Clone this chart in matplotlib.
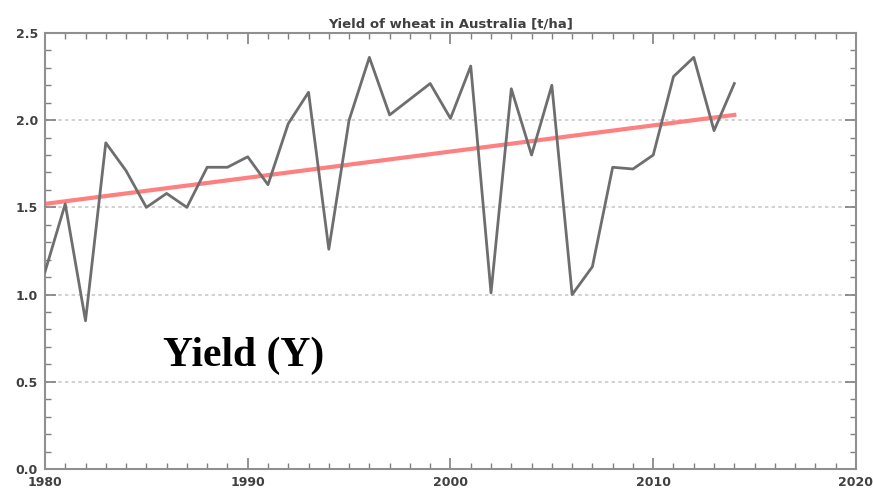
import numpy as np
import matplotlib.pyplot as plt
from matplotlib.ticker import MultipleLocator

# wheat yield in Australia, t/ha
years = list(range(1980, 2015))
yield_tha = [1.13, 1.52, 0.85, 1.87, 1.71, 1.50, 1.58, 1.50, 1.73, 1.73,
             1.79, 1.63, 1.98, 2.16, 1.26, 2.00, 2.36, 2.03, 2.12, 2.21,
             2.01, 2.31, 1.01, 2.18, 1.80, 2.20, 1.00, 1.16, 1.73, 1.72,
             1.80, 2.25, 2.36, 1.94, 2.21]

# linear trend, end points
trend_years = [1980, 2014]
trend_vals = [1.52, 2.03]

fig = plt.figure(figsize=(8.73, 4.99), dpi=100)
ax = fig.add_axes([0.0515, 0.060, 0.929, 0.874])

for lev in [0.5, 1.0, 1.5, 2.0]:
    ax.axhline(lev, color='#c8c8c8', lw=1.2, ls=(0, (2, 2)), zorder=1)

ax.plot(trend_years, trend_vals, color='#ff8080', lw=3, zorder=2)
ax.plot(years, yield_tha, color='#6e6e6e', lw=2, zorder=3)

ax.text(1989.8, 0.65, 'Yield (Y)', family='Liberation Serif', fontweight='bold',
        fontsize=30, ha='center', va='center')

ax.set_xlim(1980, 2020)
ax.set_ylim(0, 2.5)
ax.xaxis.set_major_locator(MultipleLocator(10))
ax.xaxis.set_minor_locator(MultipleLocator(1))
ax.yaxis.set_major_locator(MultipleLocator(0.5))
ax.yaxis.set_minor_locator(MultipleLocator(0.1))
ax.yaxis.set_major_formatter(lambda v, p: '%.1f' % v)
ax.tick_params(which='both', direction='in', top=True, right=True,
               color='#808080', labelsize=9, labelcolor='#404040', pad=5)
ax.tick_params(which='major', length=8, width=1.2)
ax.tick_params(which='minor', length=4, width=1)
for lab in ax.get_xticklabels() + ax.get_yticklabels():
    lab.set_fontweight('bold')
for s in ax.spines.values():
    s.set_color('#909090')
    s.set_linewidth(1.5)

ax.set_title('Yield of wheat in Australia [t/ha]', fontsize=9.5,
             fontweight='bold', color='#404040', pad=4)

fig.savefig('out.png', dpi=100)
